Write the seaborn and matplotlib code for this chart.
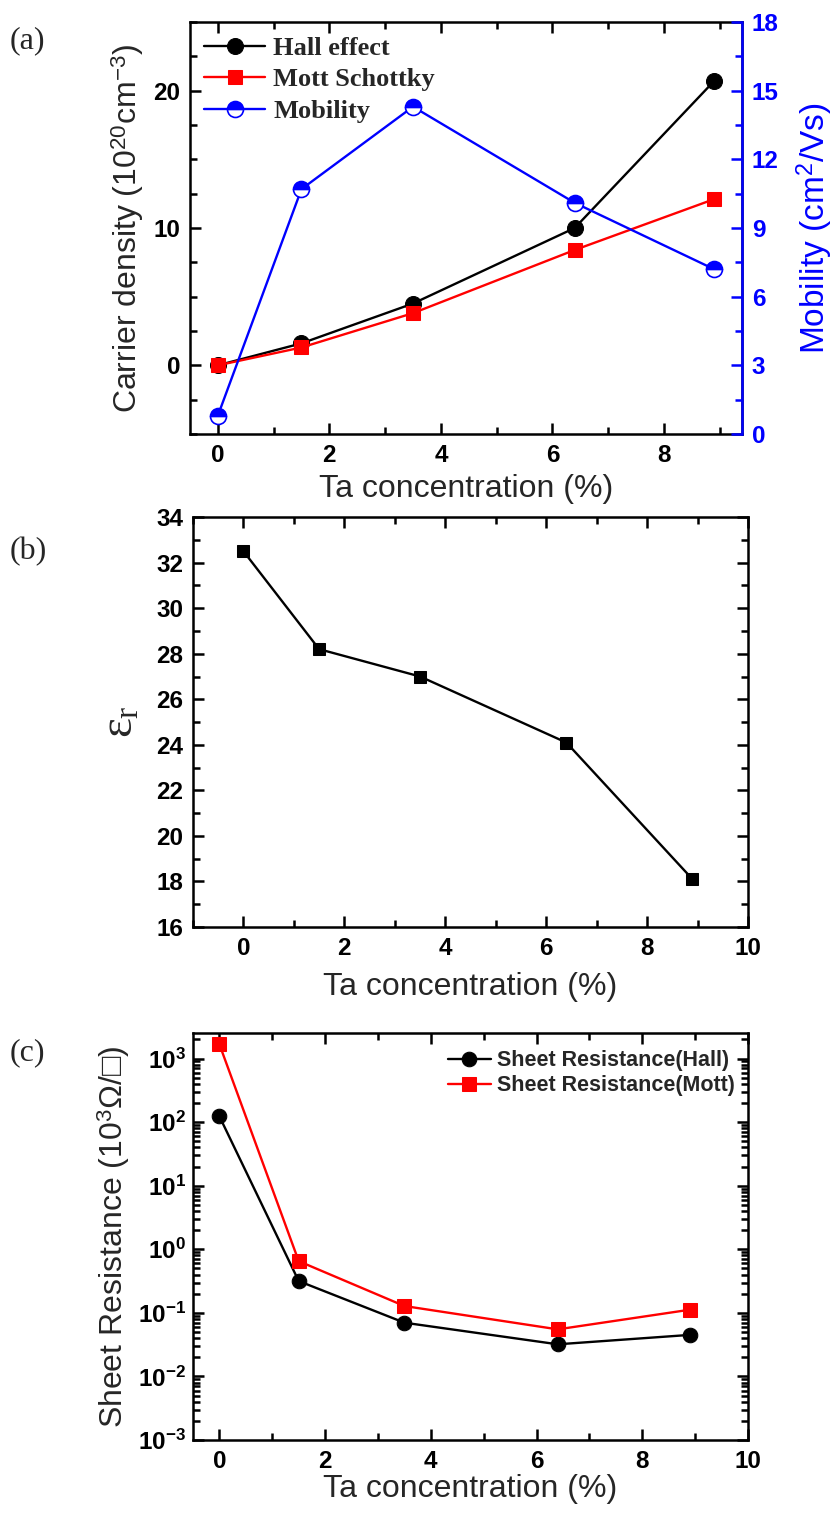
import numpy as np
import pandas as pd
import seaborn as sns
import matplotlib
matplotlib.use("Agg")
import matplotlib.pyplot as plt
from matplotlib.ticker import MultipleLocator, FixedLocator, FuncFormatter, LogLocator, NullFormatter

# ---------------- data ----------------
ta_conc = [0, 1.5, 3.5, 6.4, 8.9]
hall_density = [0.0, 1.6, 4.5, 10.0, 20.7]
mott_density = [0.0, 1.3, 3.8, 8.4, 12.1]
mobility = [0.8, 10.7, 14.3, 10.1, 7.2]
eps_r = [32.5, 28.2, 27.0, 24.1, 18.1]
sheet_hall = [123, 0.316, 0.070, 0.032, 0.045]
sheet_mott = [1670, 0.65, 0.128, 0.055, 0.112]

sns.set_theme(style="ticks")
plt.rcParams['font.family'] = ['Liberation Sans', 'DejaVu Sans']
plt.rcParams['mathtext.fontset'] = 'custom'
plt.rcParams['mathtext.rm'] = 'Liberation Sans'
plt.rcParams['mathtext.it'] = 'Liberation Serif'
plt.rcParams['mathtext.bf'] = 'Liberation Sans:bold'

BLUE = (0, 0, 1)
RED = (1, 0, 0)
SPW = 1.8
TICKFS = 17.5
LABFS = 23

fig = plt.figure(figsize=(8.38, 15.19), dpi=100)
ax_a = fig.add_axes([0.2267, 0.7143, 0.6587, 0.2712])
ax_b = fig.add_axes([0.2303, 0.3897, 0.6623, 0.2699])
ax_c = fig.add_axes([0.2303, 0.0520, 0.6623, 0.2679])


def style_axes(ax, right=True):
    for s in ax.spines.values():
        s.set_linewidth(SPW)
        s.set_color('black')
    ax.tick_params(which='both', direction='in', top=True, right=right,
                   width=SPW, colors='black')
    ax.tick_params(which='major', length=8, labelsize=TICKFS, pad=7)
    ax.tick_params(which='minor', length=5)
    for lab in ax.get_xticklabels() + ax.get_yticklabels():
        lab.set_fontweight('bold')


df = pd.DataFrame({'x': ta_conc, 'hall': hall_density, 'mott': mott_density,
                   'mob': mobility, 'eps': eps_r, 'rh': sheet_hall, 'rm': sheet_mott})

# ---------------- (a) ----------------
sns.lineplot(data=df, x='x', y='hall', ax=ax_a, color='black', marker='o',
             markersize=11.5, markeredgecolor='black', linewidth=1.7, label='Hall effect')
sns.lineplot(data=df, x='x', y='mott', ax=ax_a, color=RED, marker='s',
             markersize=10, markeredgecolor=RED, linewidth=1.7, label='Mott Schottky')
ax_a2 = ax_a.twinx()
sns.lineplot(data=df, x='x', y='mob', ax=ax_a2, color=BLUE, marker='o',
             markersize=11.5, markeredgecolor=BLUE, markerfacecolor=BLUE,
             fillstyle='top', markerfacecoloralt='white', markeredgewidth=1.2,
             linewidth=1.7, label='Mobility')
ax_a.set_xlim(-0.5, 9.4)
ax_a.set_ylim(-5, 25)
ax_a2.set_ylim(0, 18)
ax_a.xaxis.set_major_locator(MultipleLocator(2))
ax_a.xaxis.set_minor_locator(MultipleLocator(1))
ax_a.yaxis.set_major_locator(FixedLocator([0, 10, 20]))
ax_a.yaxis.set_minor_locator(MultipleLocator(2.5))
ax_a2.yaxis.set_major_locator(MultipleLocator(3))
ax_a2.yaxis.set_minor_locator(MultipleLocator(1.5))
style_axes(ax_a, right=False)
for s in ax_a2.spines.values():
    s.set_linewidth(SPW)
ax_a2.spines['right'].set_color(BLUE)
ax_a2.spines['left'].set_visible(False)
ax_a2.spines['top'].set_visible(False)
ax_a2.spines['bottom'].set_visible(False)
ax_a2.tick_params(which='both', direction='in', width=SPW, colors=BLUE)
ax_a2.tick_params(which='major', length=8, labelsize=TICKFS, pad=7)
ax_a2.tick_params(which='minor', length=5)
for lab in ax_a2.get_yticklabels():
    lab.set_fontweight('bold')
    lab.set_color(BLUE)
ax_a.set_xlabel('Ta concentration (%)', fontsize=LABFS, labelpad=5)
ax_a.set_ylabel('Carrier density (10$^{20}$cm$^{-3}$)', fontsize=LABFS, labelpad=5)
ax_a2.set_ylabel('Mobility (cm$^{2}$/Vs)', fontsize=LABFS + 1, color=BLUE, labelpad=12)
h1, l1 = ax_a.get_legend_handles_labels()
h2, l2 = ax_a2.get_legend_handles_labels()
if ax_a2.get_legend():
    ax_a2.get_legend().remove()
ax_a.legend(h1 + h2, l1 + l2, loc='upper left', frameon=False,
            prop={'family': 'Liberation Serif', 'weight': 'bold', 'size': 19},
            handlelength=2.3, handletextpad=0.3, labelspacing=0.3,
            borderaxespad=0.15, bbox_to_anchor=(0.0, 1.0))

# ---------------- (b) ----------------
sns.lineplot(data=df, x='x', y='eps', ax=ax_b, color='black', marker='s',
             markersize=9, markeredgecolor='black', linewidth=1.7)
ax_b.set_xlim(-1, 10)
ax_b.set_ylim(16, 34)
ax_b.xaxis.set_major_locator(MultipleLocator(2))
ax_b.xaxis.set_minor_locator(MultipleLocator(1))
ax_b.yaxis.set_major_locator(MultipleLocator(2))
ax_b.yaxis.set_minor_locator(MultipleLocator(1))
style_axes(ax_b)
ax_b.set_xlabel('Ta concentration (%)', fontsize=LABFS, labelpad=9)
ax_b.set_ylabel(r'$\varepsilon_{\mathit{r}}$', fontsize=34, labelpad=10)

# ---------------- (c) ----------------
sns.lineplot(data=df, x='x', y='rh', ax=ax_c, color='black', marker='o',
             markersize=10.5, markeredgecolor='black', linewidth=1.7,
             label='Sheet Resistance(Hall)')
sns.lineplot(data=df, x='x', y='rm', ax=ax_c, color=RED, marker='s',
             markersize=9.5, markeredgecolor=RED, linewidth=1.7,
             label='Sheet Resistance(Mott)')
ax_c.set_yscale('log')
ax_c.set_xlim(-0.5, 10)
ax_c.set_ylim(1e-3, 10 ** 3.4)
ax_c.xaxis.set_major_locator(MultipleLocator(2))
ax_c.xaxis.set_minor_locator(MultipleLocator(1))
ax_c.yaxis.set_major_locator(LogLocator(base=10, numticks=20))
ax_c.yaxis.set_minor_locator(LogLocator(base=10, subs=np.arange(2, 10), numticks=20))
ax_c.yaxis.set_minor_formatter(NullFormatter())
ax_c.yaxis.set_major_formatter(FuncFormatter(
    lambda v, p: r'$\mathbf{10^{%d}}$' % int(round(np.log10(v)))))
style_axes(ax_c)
ax_c.tick_params(axis='y', which='major', pad=5)
ax_c.set_xlabel('Ta concentration (%)', fontsize=LABFS, labelpad=1)
ax_c.set_ylabel('Sheet Resistance (10$^{3}$Ω/□)', fontsize=LABFS, labelpad=4)
ax_c.legend(loc='upper right', frameon=False,
            prop={'family': 'Liberation Sans', 'weight': 'bold', 'size': 15.5},
            handlelength=2.0, handletextpad=0.3, labelspacing=0.2,
            borderaxespad=0.2, bbox_to_anchor=(1.0, 0.99))

# panel labels
for txt, y in [('(a)', 0.973), ('(b)', 0.637), ('(c)', 0.307)]:
    fig.text(0.012, y, txt, fontsize=23, family='Liberation Serif', va='center')

fig.savefig('out.png', dpi=100)
